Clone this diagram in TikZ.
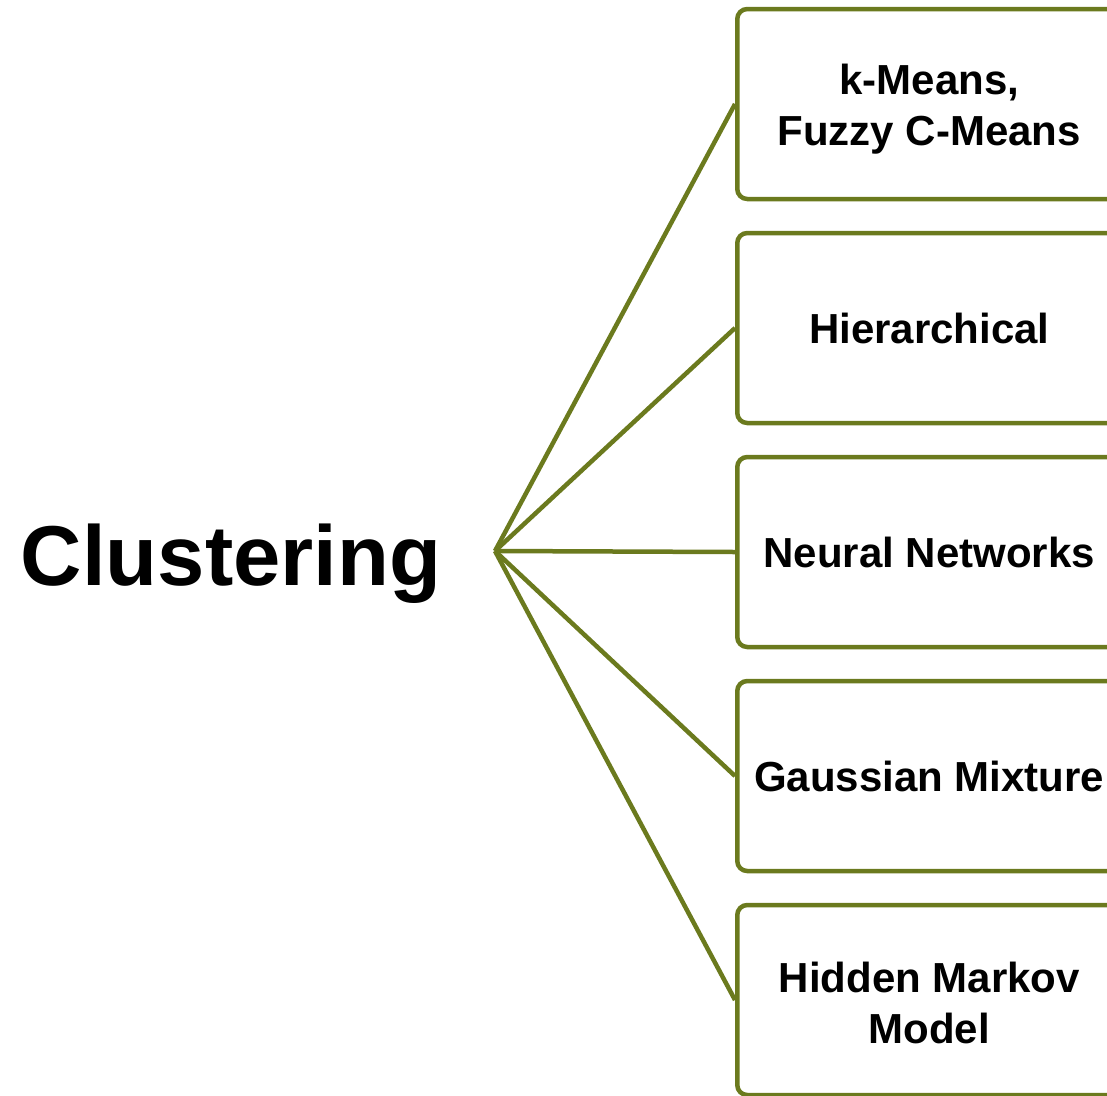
\documentclass[tikz,border=0pt]{standalone}
\usepackage{fontspec}
\setmainfont{Liberation Sans}
\definecolor{olive}{RGB}{107,122,30}
% two-line label, lowered a little while keeping its recorded size
\newcommand{\twolines}[3]{\raisebox{-#3}[\height][\depth]{\begin{tabular}{@{}c@{}}#1\\#2\end{tabular}}}
\begin{document}
\begin{tikzpicture}[x=1pt,y=-1pt,
  method/.style={draw=olive, line width=4.5pt, rounded corners=10pt, fill=white,
    minimum width=384pt, minimum height=190pt, anchor=west, align=center,
    font=\fontsize{42}{51}\selectfont\bfseries, inner sep=0pt},
  link/.style={draw=olive, line width=4.5pt, line join=round}]
\useasboundingbox (0,0) rectangle (1107,1095);
\clip (0,0) rectangle (1107,1095);

\node[anchor=base, font=\fontsize{85}{90}\selectfont\bfseries] (title) at (231,585) {Clustering};
\coordinate (hub) at (495,551);

\node[method] (b1) at (735,104) {\twolines{k-Means,}{Fuzzy C-Means}{6pt}};
\node[method] (b2) at (735,328) {Hierarchical};
\node[method] (b3) at (735,552) {Neural Networks};
\node[method] (b4) at (735,776) {Gaussian Mixture};
\node[method] (b5) at (735,1000) {\twolines{Hidden Markov}{Model}{8pt}};

\foreach \b in {b1,b2,b3,b4,b5}
  \draw[link] (hub) -- (\b.west);
\end{tikzpicture}
\end{document}
